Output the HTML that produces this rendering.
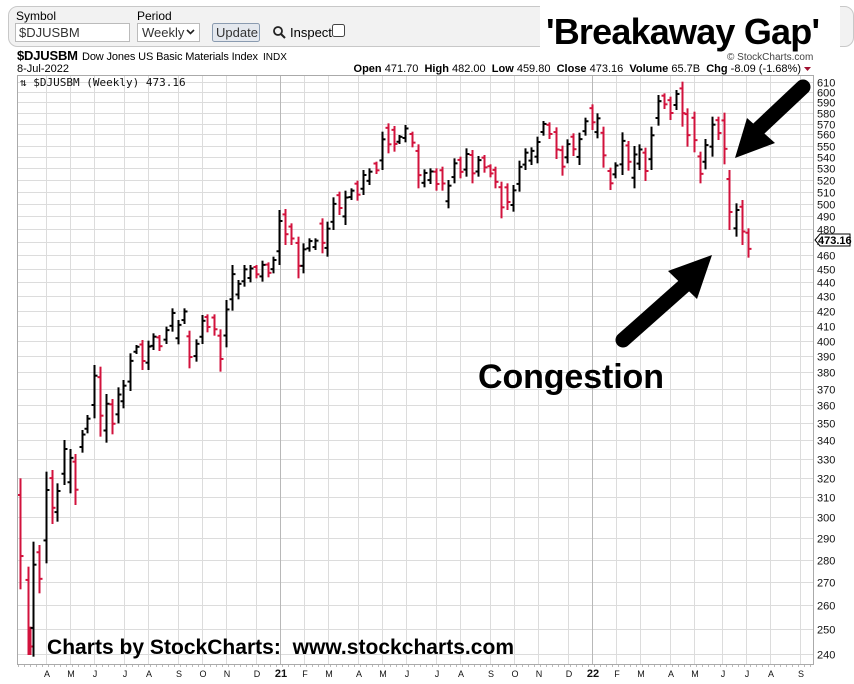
<!DOCTYPE html>
<html><head><meta charset="utf-8"><style>
body{margin:0;background:#fff;width:854px;height:684px;overflow:hidden;font-family:"Liberation Sans",sans-serif}
svg{position:absolute;left:0;top:0}
</style></head><body>
<svg id="s" width="854" height="684" xmlns="http://www.w3.org/2000/svg" font-family="Liberation Sans, sans-serif">
<rect x="8.5" y="6.5" width="845" height="40" rx="9" fill="#f2f2f2" stroke="#c8c8c8"/>
<text x="16" y="20" font-size="12">Symbol</text>
<rect x="15.5" y="23.5" width="114" height="18" fill="#fff" stroke="#bbb"/>
<text x="19" y="37" font-size="13" fill="#333">$DJUSBM</text>
<text x="137" y="20" font-size="12">Period</text>
<rect x="137.5" y="23.5" width="62" height="18" fill="#fff" stroke="#bbb"/>
<text x="142" y="37" font-size="13" fill="#333">Weekly</text>
<path d="M187 30 l3.5 3.5 l3.5 -3.5" stroke="#222" stroke-width="1.6" fill="none"/>
<rect x="212.5" y="23.5" width="47" height="18" rx="2" fill="#e4e8ee" stroke="#8a9bb0"/>
<text x="216" y="37" font-size="13" fill="#333">Update</text>
<circle cx="278" cy="31" r="4" stroke="#222" stroke-width="1.8" fill="none"/>
<path d="M281 34 l4 4" stroke="#222" stroke-width="2"/>
<text x="290" y="37" font-size="13">Inspect</text>
<rect x="332.5" y="24.5" width="12" height="12" rx="2" fill="#fff" stroke="#444"/>
<rect x="540" y="4" width="300" height="46" fill="#fff"/>
<text x="546" y="44" font-size="36" font-weight="bold" textLength="274">'Breakaway Gap'</text>
<text x="727" y="60" font-size="10" fill="#444">© StockCharts.com</text>
<text x="17" y="60" font-size="13" font-weight="bold" textLength="61">$DJUSBM</text>
<text x="82" y="60" font-size="11" textLength="176">Dow Jones US Basic Materials Index</text>
<text x="263" y="60" font-size="10">INDX</text>
<text x="17" y="72" font-size="11">8-Jul-2022</text>
<text x="801" y="72" font-size="11" text-anchor="end" xml:space="preserve"><tspan font-weight="bold">Open</tspan> 471.70  <tspan font-weight="bold">High</tspan> 482.00  <tspan font-weight="bold">Low</tspan> 459.80  <tspan font-weight="bold">Close</tspan> 473.16  <tspan font-weight="bold">Volume</tspan> 65.7B  <tspan font-weight="bold">Chg</tspan> -8.09 (-1.68%)</text>
<path d="M804 67 h7 l-3.5 4z" fill="#a01030"/>
<g id="grid"></g>
<g id="bars"></g>
<rect x="17.5" y="75.5" width="796" height="589" fill="none" stroke="#aaa"/>
<text x="20" y="86" font-size="11" font-family="DejaVu Sans Mono, monospace" fill="#111">⇅ $DJUSBM (Weekly) 473.16</text>
<g id="lab" font-size="11" fill="#111"></g>
<path d="M815 240 l5 -6 h30 v12 h-30z" fill="#fff" stroke="#000"/>
<text x="818" y="244" font-size="11" font-weight="bold">473.16</text>
<line x1="803" y1="87" x2="752" y2="135" stroke="#000" stroke-width="15" stroke-linecap="round"/>
<path d="M735 158 L747 118 L775 143Z" fill="#000"/>
<line x1="623" y1="340" x2="685" y2="285" stroke="#000" stroke-width="15" stroke-linecap="round"/>
<path d="M712 255 L668 271 L697 299Z" fill="#000"/>
<text x="478" y="388" font-size="34" font-weight="bold" textLength="186">Congestion</text>
<text x="47" y="654" font-size="21" font-weight="bold" textLength="467" xml:space="preserve">Charts by StockCharts:  www.stockcharts.com</text>
</svg>
<script>
var NS="http://www.w3.org/2000/svg";
function el(p,t,a){var e=document.createElementNS(NS,t);for(var k in a)e.setAttribute(k,a[k]);p.appendChild(e);return e;}
var g=document.getElementById('grid'),lab=document.getElementById('lab'),bars=document.getElementById('bars');
function Y(v){return 82+(Math.log(610)-Math.log(v))*613.3;}
for(var v=240;v<=610;v+=10){var y=Math.round(Y(v))+0.5;el(g,'line',{x1:18,x2:813,y1:y,y2:y,stroke:'#dcdcdc'});var t=el(lab,'text',{x:817,y:y+4});t.textContent=v;}
var mx=[46,70,94,124,148,178,202,226,256,280,304,328,358,382,406,436,460,490,514,538,568,592,616,640,670,694,722,746,770,800];
var ml=['A','M','J','J','A','S','O','N','D','21','F','M','A','M','J','J','A','S','O','N','D','22','F','M','A','M','J','J','A','S'];
for(var i=0;i<mx.length;i++){var yr=ml[i]=='21'||ml[i]=='22';el(g,'line',{x1:mx[i]+.5,x2:mx[i]+.5,y1:76,y2:664,stroke:yr?'#b8b8b8':'#dcdcdc'});
var t=el(lab,'text',{x:mx[i]+1,y:677,'text-anchor':'middle','font-size':yr?'11':'9','font-weight':yr?'bold':'normal'});t.textContent=ml[i];}
for(var x=18;x<812;x+=6)el(g,'line',{x1:x+.5,x2:x+.5,y1:664,y2:667,stroke:'#bbb'});
var z4=[[15,685,1018,'r'],[38,950,1215,'r'],[44,1130,1215,'r'],[55,875,1220,'b'],[73,885,1030,'r'],[93,665,940,'b'],[110,660,822,'r'],[127,700,815,'b'],[147,570,705,'b'],[165,597,730,'b'],[181,612,765,'r'],[200,540,608,'b'],[217,495,550,'b'],[237,345,505,'b'],[256,350,560,'r'],[273,432,578,'b'],[290,447,553,'r'],[308,412,520,'b'],[325,390,475,'b'],[345,310,423,'b'],[362,285,312,'b'],[380,270,360,'r'],[398,272,360,'b'],[415,250,300,'b'],[433,255,303,'r'],[452,230,282,'b'],[470,175,245,'b'],[488,210,283,'b'],[507,175,222,'b'],[523,242,355,'r'],[542,268,335,'b'],[560,195,282,'b'],[576,193,247,'r'],[596,193,257,'r'],[615,238,365,'r'],[632,150,292,'b'],[650,45,182,'b'],[668,90,148,'b'],[686,45,110,'b'],[705,45,97,'b'],[722,45,85,'r'],[740,32,95,'b'],[758,37,82,'r'],[775,20,70,'b']];
var z5=[[28,300,465,'b'],[45,297,405,'r'],[63,340,405,'r'],[83,380,505,'r'],[100,400,490,'b'],[118,385,425,'b'],[135,385,420,'b'],[155,325,430,'r'],[172,335,440,'b'],[190,262,360,'b'],[208,245,315,'r'],[226,242,345,'b'],[244,235,270,'b'],[262,212,272,'r'],[280,180,255,'b'],[297,175,225,'b'],[317,155,192,'r'],[335,65,180,'b'],[353,40,130,'r'],[371,48,125,'r'],[388,75,102,'b'],[406,45,97,'b'],[425,65,112,'r'],[443,103,235,'r'],[461,178,232,'b'],[479,175,222,'b'],[497,175,242,'r'],[515,170,242,'r'],[533,210,295,'b'],[551,145,220,'b'],[569,140,205,'r'],[587,115,200,'b'],[605,120,220,'r'],[623,138,200,'b'],[641,135,188,'r'],[659,163,202,'r'],[676,170,235,'r'],[694,215,325,'r'],[712,220,300,'r'],[730,225,305,'b'],[747,152,245,'b'],[765,115,180,'b'],[783,112,165,'b'],[801,80,160,'b']];
var z6=[[40,138,182,'b'],[58,142,192,'r'],[78,157,252,'r'],[97,212,302,'r'],[112,193,265,'b'],[130,175,243,'r'],[148,173,270,'b'],[166,128,182,'b'],[185,88,165,'r'],[202,115,190,'b'],[219,155,278,'r'],[240,278,345,'r'],[256,262,310,'b'],[275,172,300,'b'],[293,198,287,'r'],[311,213,340,'b'],[327,208,285,'b'],[345,218,318,'r'],[364,155,285,'b'],[383,60,152,'b'],[401,55,102,'r'],[419,65,135,'r'],[437,45,105,'b'],[455,20,155,'r'],[472,100,215,'r'],[492,110,232,'r'],[509,230,325,'r'],[526,192,283,'b'],[545,125,245,'b'],[563,125,195,'r'],[581,113,268,'r'],[598,285,465,'r'],[617,385,485,'b'],[635,375,510,'r'],[653,460,548,'r']];
function draw(list,ox,oy){list.forEach(function(b){var x=Math.round(ox+b[0]/3)+.5,t=oy+b[1]/3,bt=oy+b[2]/3,c=b[3]=='r'?'#d2123c':'#000',h=bt-t;
var o,cl;if(b[3]=='r'){o=t+h*.15;cl=t+h*.7;}else{o=t+h*.75;cl=t+h*.2;}
el(bars,'line',{x1:x,x2:x,y1:t,y2:bt,stroke:c,'stroke-width':2});
el(bars,'line',{x1:x-3,x2:x,y1:o,y2:o,stroke:c,'stroke-width':2});
el(bars,'line',{x1:x,x2:x+3,y1:cl,y2:cl,stroke:c,'stroke-width':2});});}
draw(z4,15,250);draw(z5,270,110);draw(z6,530,75);
</script>
</body></html>
